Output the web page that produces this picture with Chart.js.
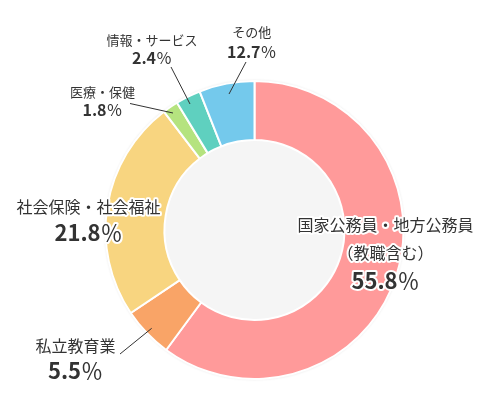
<!DOCTYPE html>
<html lang="ja">
<head>
<meta charset="utf-8">
<script src="https://cdn.jsdelivr.net/npm/chart.js@4.4.0/dist/chart.umd.min.js"></script>
<style>
html, body { margin: 0; padding: 0; background: #fff; }
#wrap { width: 490px; height: 410px; position: relative; }
</style>
</head>
<body>
<div id="wrap"><canvas id="pieChart"></canvas></div>
<script>
//data
const categories = ['国家公務員・地方公務員', '私立教育業', '社会保険・社会福祉', '医療・保健', '情報・サービス', 'その他'];
const shares = [60.1, 5.5, 24.0, 1.7, 2.7, 6.0];   // slice sizes as drawn in the picture
const percentValues = ['55.8', '5.5', '21.8', '1.8', '2.4', '12.7'];
const sliceColors = ['#ff9a9a', '#f9a467', '#f8d580', '#b5e37f', '#5fd0bf', '#74c9ec'];

//label layout, offsets from the doughnut centre
const labelLayout = [
    { x: 131, y: -5, gap: 28, big: true, extra: '（教職含む）' },
    { x: -179, y: 115.5, gap: 25, big: true, line: [-134.5, 124, -102.8, 98.3] },
    { x: -166, y: -23.5, gap: 26, big: true },
    { x: -152, y: -137.5, gap: 17.5, big: false, line: [-124.5, -126.5, -81.5, -117] },
    { x: -102.5, y: -190, gap: 17.5, big: false, line: [-83.5, -163, -64.5, -126] },
    { x: -2.7, y: -197.5, gap: 19, big: false, line: [-8.5, -168, -25.5, -136] },
];

const fontFamily = '"Noto Sans CJK JP", "Noto Sans", sans-serif';
const textColor = '#333';

const backdrop = {
    id: 'backdrop',
    beforeDatasetsDraw(chart) {
        const arc = chart.getDatasetMeta(0).data[0];
        const { ctx } = chart;
        ctx.save();
        ctx.shadowColor = 'rgba(0, 0, 0, 0.18)';
        ctx.shadowBlur = 3;
        ctx.fillStyle = '#fff';
        ctx.beginPath();
        ctx.arc(arc.x, arc.y, arc.outerRadius, 0, Math.PI * 2);
        ctx.fill();
        ctx.shadowColor = 'transparent';
        ctx.fillStyle = '#f5f5f5';
        ctx.beginPath();
        ctx.arc(arc.x, arc.y, arc.innerRadius, 0, Math.PI * 2);
        ctx.fill();
        ctx.restore();
    }
};

const haloText = (ctx, text, x, y) => {
    ctx.strokeText(text, x, y);
    ctx.fillText(text, x, y);
};

// bold number followed by a lighter full-width percent sign, centred together
const percentText = (ctx, num, x, y, size) => {
    const numFont = `bold ${size}px ${fontFamily}`;
    const signFont = `${size}px ${fontFamily}`;
    ctx.font = numFont;
    const w1 = ctx.measureText(num).width;
    ctx.font = signFont;
    const w2 = ctx.measureText('％').width;
    const left = x - (w1 + w2) / 2;
    ctx.textAlign = 'left';
    ctx.font = numFont;
    haloText(ctx, num, left, y);
    ctx.font = signFont;
    haloText(ctx, '％', left + w1, y);
    ctx.textAlign = 'center';
};

const sliceLabels = {
    id: 'sliceLabels',
    afterDatasetsDraw(chart) {
        const { ctx } = chart;
        const arc = chart.getDatasetMeta(0).data[0];
        const cx = arc.x, cy = arc.y;
        ctx.save();
        ctx.textAlign = 'center';
        ctx.textBaseline = 'middle';
        ctx.lineJoin = 'round';
        labelLayout.forEach((lay, i) => {
            if (lay.line) {
                ctx.strokeStyle = textColor;
                ctx.lineWidth = 1;
                ctx.beginPath();
                ctx.moveTo(cx + lay.line[0], cy + lay.line[1]);
                ctx.lineTo(cx + lay.line[2], cy + lay.line[3]);
                ctx.stroke();
            }
            const x = cx + lay.x;
            let y = cy + lay.y;
            ctx.strokeStyle = '#fff';
            ctx.lineWidth = 4;
            ctx.fillStyle = textColor;
            ctx.font = `${lay.big ? 16 : 13}px ${fontFamily}`;
            haloText(ctx, categories[i], x, y);
            if (lay.extra) {
                y += lay.gap;
                haloText(ctx, lay.extra, x, y);
            }
            y += lay.gap;
            percentText(ctx, percentValues[i], x, y, lay.big ? 22 : 16);
        });
        ctx.restore();
    }
};

const donutChart = (ctx) => {
    const data = {
        labels: categories,
        datasets: [{
            data: shares,
            backgroundColor: sliceColors,
            borderColor: '#fff',
            borderWidth: 2,
            hoverOffset: 0,
            hoverBorderWidth: 2,
        }]
    };

    const config = {
        type: 'doughnut',
        data: data,
        options: {
            responsive: true,
            maintainAspectRatio: false,
            animation: false,
            cutout: 90,
            layout: {
                padding: { left: 104.5, right: 85.5, top: 80, bottom: 30 }
            },
            plugins: {
                legend: { display: false },
                tooltip: { enabled: false },
            }
        },
        plugins: [backdrop, sliceLabels]
    };
    return new Chart(ctx, config);
};

//element
const ctx = document.getElementById('pieChart');
const myChart = donutChart(ctx);
</script>
</body>
</html>
